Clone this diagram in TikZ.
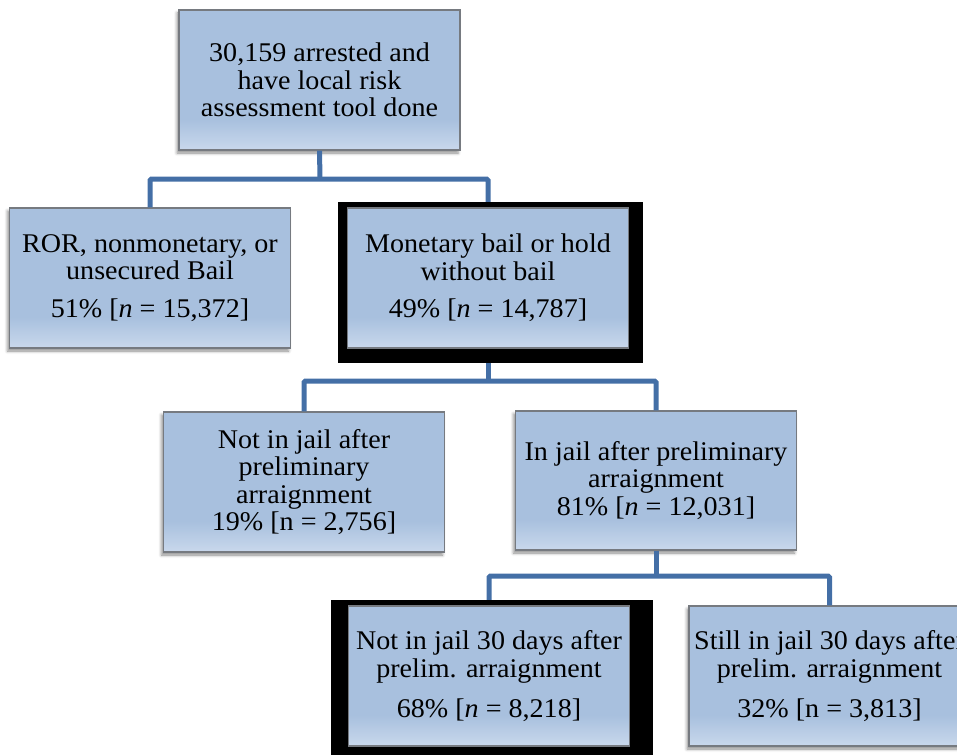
\documentclass[tikz,border=0pt]{standalone}
\usepackage{fontspec}
\setmainfont{Liberation Serif}[FakeStretch=1.04]
\usetikzlibrary{shadows.blur,calc}
\definecolor{boxbase}{RGB}{168,192,222}
\definecolor{boxlight}{RGB}{201,216,236}
\definecolor{boxedge}{RGB}{118,122,128}
\definecolor{connblue}{RGB}{68,111,166}
\pgfdeclareverticalshading{boxshade}{100bp}{color(0bp)=(boxlight); color(25bp)=(boxlight); color(36bp)=(boxbase); color(100bp)=(boxbase)}
\begin{document}
\begin{tikzpicture}[x=1pt,y=-1pt,
  box/.style={draw=boxedge, line width=1.2pt, shade, shading=boxshade,
    minimum width=281pt, minimum height=140pt, inner sep=0pt, align=center,
    font=\fontsize{27}{27.6}\selectfont,
    blur shadow={shadow xshift=-2pt, shadow yshift=-3pt, shadow blur radius=3pt, shadow opacity=45}},
  blackframe/.style={fill=black, draw=none, inner sep=0pt},
  conn/.style={draw=connblue, line width=5pt, rounded corners=1.5pt}]
\path[use as bounding box] (0,0) rectangle (957,754);
\clip (0,0) rectangle (957,754);

% black frames
\node[blackframe, minimum width=305pt, minimum height=161pt] (monf) at (490.5,282.5) {};
\node[blackframe, minimum width=322pt, minimum height=160pt] (njdf) at (492,680) {};

% boxes
\node[box] (top) at (319.5,80) {30,159 arrested and\\have local risk\\assessment tool done};
\node[box] (ror) at (150,278) {ROR, nonmonetary, or\\unsecured Bail\\[10pt]51\% [\textit{n} = 15,372]};
\node[box] (mon) at (488,278) {Monetary bail or hold\\without bail\\[10pt]49\% [\textit{n} = 14,787]};
\node[box] (nij) at (304,482) {Not in jail after\\preliminary\\arraignment\\19\% [n = 2,756]};
\node[box, minimum height=139pt] (ij) at (656,480.5) {In jail after preliminary\\arraignment\\81\% [\textit{n} = 12,031]};
\node[box] (njd) at (489,676) {Not in jail 30 days after\\prelim. arraignment\\[12pt]68\% [\textit{n} = 8,218]};
\node[box] (sjd) at (829.5,676) {Still in jail 30 days after\\prelim. arraignment\\[12pt]32\% [n = 3,813]};

% connectors
\coordinate (b1) at (320,179);
\coordinate (b2) at (488,381);
\coordinate (b3) at (656,576);
\draw[conn] (top.south) -- (b1);
\draw[conn] (ror.north) |- (b1) -| (mon.north |- monf.north);
\draw[conn] (monf.south -| mon.north) -- (b2);
\draw[conn] (nij.north) |- (b2) -| (ij.north);
\draw[conn] (ij.south) -- (b3);
\draw[conn] (njd.north |- njdf.north) |- (b3) -| (sjd.north);
\end{tikzpicture}
\end{document}
